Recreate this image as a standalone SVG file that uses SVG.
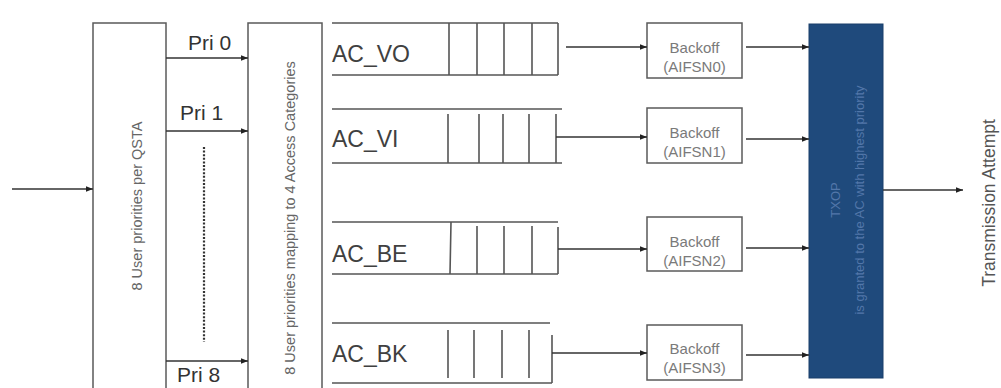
<svg xmlns="http://www.w3.org/2000/svg" width="1001" height="388" viewBox="0 0 1001 388">
<style>
.box{fill:#fff;stroke:#5a5a5a;stroke-width:1.5}
.q{stroke:#555;stroke-width:1.6;fill:none}
.c{stroke:#333;stroke-width:1.4;fill:none;marker-end:url(#ah)}
.pri{font-family:"Liberation Sans",Arial,sans-serif;font-size:21px;fill:#333}
.ac{font-family:"Liberation Sans",Arial,sans-serif;font-size:23px;fill:#404040}
.bt{font-family:"Liberation Sans",Arial,sans-serif;font-size:15px;fill:#7a7a7a;text-anchor:middle}
.vt{font-family:"Liberation Sans",Arial,sans-serif;font-size:14.5px;fill:#666;text-anchor:middle;dominant-baseline:central}
.wt{font-family:"Liberation Sans",Arial,sans-serif;font-size:13px;fill:#5377aa;text-anchor:middle;dominant-baseline:central}
</style>
<defs>
<marker id="ah" viewBox="0 0 10 10" refX="10" refY="5" markerWidth="7" markerHeight="7" markerUnits="userSpaceOnUse" orient="auto">
<path d="M0,1 L10,5 L0,9 z" fill="#222"/>
</marker>
</defs>
<rect width="1001" height="388" fill="#fff"/>

<g id="qsta">
<rect class="box" x="93" y="23" width="73" height="370"/>
<text class="vt" transform="translate(137,206) rotate(-90)">8 User priorities per QSTA</text>
</g>

<g id="mapping">
<rect class="box" x="248" y="23" width="74" height="370"/>
<text class="vt" transform="translate(290,218) rotate(-90)">8 User priorities mapping to 4 Access Categories</text>
</g>

<g id="labels">
<text class="pri" x="177" y="50" dx="11">Pri 0</text>
<text class="pri" x="180" y="120">Pri 1</text>
<text class="pri" x="177" y="382">Pri 8</text>
<line x1="204" y1="147" x2="204" y2="342" stroke="#333" stroke-width="2.2" stroke-dasharray="2 1.6"/>
</g>

<g id="ac_vo">
<path class="q" d="M332,23 H558 M332,75 H558 M449,23 V75 M477,23 V75 M504,23 V75 M532,23 V75 M558,23 V75"/>
<text class="ac" x="332" y="62">AC_VO</text>
</g>
<g id="ac_vi">
<path class="q" d="M332,109 H562 M332,163 H562 M448,114 V163 M479,114 V163 M503,114 V163 M529,114 V163 M556,114 V163"/>
<text class="ac" x="332" y="147">AC_VI</text>
</g>
<g id="ac_be">
<path class="q" d="M332,222 H558 M332,274 H558 M451,222 L450,274 M477,226 V274 M504,226 V274 M532,226 V274 M558,227 V274"/>
<text class="ac" x="332" y="262">AC_BE</text>
</g>
<g id="ac_bk">
<path class="q" d="M332,323 H550 M332,383 H552 M448,330 V378 M474,330 V378 M502,330 V378 M529,330 V378 M552,335 V383"/>
<text class="ac" x="332" y="362">AC_BK</text>
</g>

<g id="backoff0">
<rect class="box" x="647" y="23" width="95" height="55"/>
<text class="bt" x="694.5" y="53">Backoff</text>
<text class="bt" x="694.5" y="72">(AIFSN0)</text>
</g>
<g id="backoff1">
<rect class="box" x="647" y="108" width="95" height="55"/>
<text class="bt" x="694.5" y="138">Backoff</text>
<text class="bt" x="694.5" y="157">(AIFSN1)</text>
</g>
<g id="backoff2">
<rect class="box" x="647" y="217" width="95" height="54"/>
<text class="bt" x="694.5" y="247">Backoff</text>
<text class="bt" x="694.5" y="266">(AIFSN2)</text>
</g>
<g id="backoff3">
<rect class="box" x="647" y="325" width="95" height="55"/>
<text class="bt" x="694.5" y="354">Backoff</text>
<text class="bt" x="694.5" y="373">(AIFSN3)</text>
</g>

<g id="txop">
<rect x="809" y="24" width="74" height="354" fill="#1f4a7c" stroke="#1a3f6a" stroke-width="1"/>
<text class="wt" transform="translate(835,200) rotate(-90)">TXOP</text>
<text class="wt" transform="translate(859,200) rotate(-90)">is granted to the AC with highest priority</text>
</g>

<g id="output">
<text transform="translate(989,203) rotate(-90)" font-family="Liberation Sans, Arial, sans-serif" font-size="17.5" fill="#555" text-anchor="middle" dominant-baseline="central">Transmission Attempt</text>
</g>

<g id="connectors">
<line class="c" x1="12" y1="189" x2="93" y2="189"/>
<line class="c" x1="166" y1="58" x2="248" y2="58"/>
<line class="c" x1="166" y1="131" x2="248" y2="131"/>
<line class="c" x1="166" y1="361" x2="248" y2="361"/>
<line class="c" x1="566" y1="47" x2="647" y2="47"/>
<line class="c" x1="556" y1="137" x2="647" y2="137"/>
<line class="c" x1="558" y1="249" x2="647" y2="249"/>
<line class="c" x1="552" y1="353" x2="647" y2="353"/>
<line class="c" x1="746" y1="47" x2="809" y2="47"/>
<line class="c" x1="746" y1="139" x2="809" y2="139"/>
<line class="c" x1="746" y1="248" x2="809" y2="248"/>
<line class="c" x1="746" y1="355" x2="809" y2="355"/>
<line class="c" x1="883" y1="190" x2="963" y2="190"/>
</g>
</svg>
